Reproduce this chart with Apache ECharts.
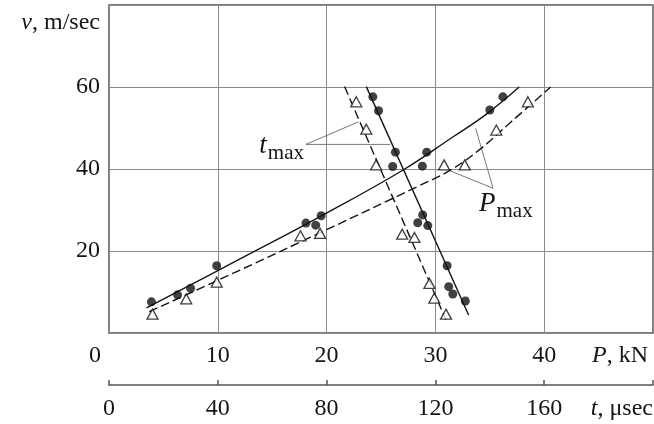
<!DOCTYPE html>
<html>
<head>
<meta charset="utf-8">
<script src="https://cdn.jsdelivr.net/npm/echarts@6.0.0/dist/echarts.min.js"></script>
<style>
  html, body { margin: 0; padding: 0; background: #fff; }
  #chart { width: 654px; height: 424px; }
</style>
</head>
<body>
<div id="chart"></div>
<script>
  // P_max runs: P in kN, v in m/sec
  var pDotsP = [3.9, 6.3, 7.5, 9.9, 18.1, 19.0, 19.5, 28.8, 29.2, 35.0, 36.2]
  var pDotsV = [7.6, 9.3, 10.9, 16.4, 26.8, 26.3, 28.6, 40.7, 44.1, 54.4, 57.6]
  var pTriP = [4.0, 7.1, 9.9, 17.6, 19.4, 30.8, 32.7, 35.6, 38.5]
  var pTriV = [4.6, 8.3, 12.4, 23.7, 24.3, 41.0, 41.0, 49.5, 56.4]

  // t_max runs: t in microseconds
  var tDotsT = [131.0, 126.4, 124.9, 124.3, 117.2, 113.5, 115.3, 104.3, 105.3, 99.1, 97.0]
  var tDotsV = [7.8, 9.5, 11.3, 16.4, 26.2, 26.9, 28.8, 40.6, 44.1, 54.2, 57.6]
  var tTriT = [123.9, 119.6, 117.8, 112.3, 107.8, 98.2, 94.6, 90.9]
  var tTriV = [4.6, 8.5, 12.1, 23.3, 24.1, 41.0, 49.7, 56.4]

  // fitted curves
  var pSolidP = [3.45, 12, 19.4, 27, 31.6, 34.6, 37.7]
  var pSolidV = [6.1, 18.0, 28.4, 39.7, 47.8, 53.2, 60.0]
  var pDashP = [3.7, 12, 20, 28.5, 31.3, 34, 37, 40.6]
  var pDashV = [5.2, 15.3, 25.2, 35.9, 39.6, 44.6, 51.6, 60.0]
  var tSolidT = [94.6, 132.2]
  var tSolidV = [60.1, 4.4]
  var tDashT = [86.6, 123.9]
  var tDashV = [60.1, 3.2]

  // leader lines of the two labels
  var pLeadP = [31.3, 35.3, 33.7]
  var pLeadV = [39.6, 35.3, 49.9]
  var tLeadT = [91.7, 72.4, 103.3]
  var tLeadV = [51.5, 46.0, 46.0]

  var pTicks = [0, 10, 20, 30, 40]
  var tTicks = [0, 40, 80, 120, 160]
  var vTicks = [20, 40, 60]

  function zip(xs, ys) {
    return xs.map(function (x, i) { return [x, ys[i]] })
  }

  var font = 'Liberation Serif'
  var ink = '#151515'
  var fs = 24

  var chart = echarts.init(document.getElementById('chart'))

  function richName(main, rest) {
    return {
      text: '{i|' + main + '}{r|' + rest + '}',
      rich: {
        i: { fontFamily: font, fontStyle: 'italic', fontSize: fs, fill: ink },
        r: { fontFamily: font, fontSize: fs, fill: ink }
      }
    }
  }

  function richSub(main) {
    return {
      text: '{t|' + main + '}{s|max}',
      rich: {
        t: { fontFamily: font, fontStyle: 'italic', fontSize: 27, fill: ink, verticalAlign: 'bottom', padding: [0, 1, 4, 0] },
        s: { fontFamily: font, fontSize: 21, fill: ink, verticalAlign: 'bottom' }
      }
    }
  }

  var option = {
    animation: false,
    grid: {
      left: 109,
      right: 1,
      top: 5,
      bottom: 91,
      show: true,
      borderColor: '#555',
      borderWidth: 1.5,
      outerBoundsMode: 'none'
    },
    xAxis: [{
      type: 'value',
      min: 0,
      max: 50,
      interval: 10,
      axisLine: { show: false },
      axisTick: { show: false },
      splitLine: { lineStyle: { color: '#8a8a8a', width: 1 } },
      axisLabel: {
        margin: 11,
        fontFamily: font,
        fontSize: fs,
        color: ink,
        formatter: function (val) {
          if (val === 0) return '{z|0}'
          return pTicks.indexOf(val) >= 0 ? String(val) : ''
        },
        rich: {
          z: { fontFamily: font, fontSize: fs, color: ink, padding: [0, 28, 0, 0] }
        }
      }
    }, {
      type: 'value',
      position: 'bottom',
      offset: 52,
      min: 0,
      max: 200,
      interval: 40,
      axisLine: { show: true, lineStyle: { color: '#555', width: 1.5 } },
      axisTick: { show: true, inside: true, length: 5, lineStyle: { color: '#555', width: 1.5 } },
      splitLine: { show: false },
      axisLabel: {
        margin: 12,
        fontFamily: font,
        fontSize: fs,
        color: ink,
        formatter: function (val) {
          return tTicks.indexOf(val) >= 0 ? String(val) : ''
        }
      }
    }],
    yAxis: {
      type: 'value',
      min: 0,
      max: 80,
      interval: 20,
      axisLine: { show: false },
      axisTick: { show: false },
      splitLine: { lineStyle: { color: '#8a8a8a', width: 1 } },
      axisLabel: {
        margin: 9,
        fontFamily: font,
        fontSize: fs,
        color: ink,
        formatter: function (val) {
          return vTicks.indexOf(val) >= 0 ? String(val) : ''
        }
      }
    },
    graphic: [{
      type: 'text',
      style: Object.assign({ x: 100, y: 23, align: 'right', verticalAlign: 'middle' }, richName('v', ', m/sec'))
    }, {
      type: 'text',
      style: Object.assign({ x: 648, y: 356, align: 'right', verticalAlign: 'middle' }, richName('P', ', kN'))
    }, {
      type: 'text',
      style: Object.assign({ x: 653, y: 409, align: 'right', verticalAlign: 'middle' }, richName('t', ', μsec'))
    }, {
      type: 'text',
      style: Object.assign({ x: 304, y: 148, align: 'right', verticalAlign: 'middle' }, richSub('t'))
    }, {
      type: 'text',
      style: Object.assign({ x: 479, y: 206, align: 'left', verticalAlign: 'middle' }, richSub('P'))
    }],
    series: [
      {
        type: 'line', xAxisIndex: 0, data: zip(pLeadP, pLeadV),
        showSymbol: false, silent: true, z: 1,
        lineStyle: { color: '#777', width: 1 }
      },
      {
        type: 'line', xAxisIndex: 1, data: zip(tLeadT, tLeadV),
        showSymbol: false, silent: true, z: 1,
        lineStyle: { color: '#777', width: 1 }
      },
      {
        type: 'line', xAxisIndex: 0, data: zip(pSolidP, pSolidV),
        showSymbol: false, smooth: 0.4,
        lineStyle: { color: ink, width: 1.4 }
      },
      {
        type: 'line', xAxisIndex: 0, data: zip(pDashP, pDashV),
        showSymbol: false, smooth: 0.4,
        lineStyle: { color: ink, width: 1.4, type: [9, 4] }
      },
      {
        type: 'line', xAxisIndex: 1, data: zip(tSolidT, tSolidV),
        showSymbol: false,
        lineStyle: { color: ink, width: 1.4 }
      },
      {
        type: 'line', xAxisIndex: 1, data: zip(tDashT, tDashV),
        showSymbol: false,
        lineStyle: { color: ink, width: 1.4, type: [9, 4] }
      },
      {
        type: 'scatter', xAxisIndex: 0, data: zip(pDotsP, pDotsV),
        symbol: 'circle', symbolSize: 9, z: 5,
        itemStyle: { color: '#111' }
      },
      {
        type: 'scatter', xAxisIndex: 1, data: zip(tDotsT, tDotsV),
        symbol: 'circle', symbolSize: 9, z: 5,
        itemStyle: { color: '#111' }
      },
      {
        type: 'scatter', xAxisIndex: 0, data: zip(pTriP, pTriV),
        symbol: 'triangle', symbolSize: [11, 10], z: 5,
        itemStyle: { color: '#fff', borderColor: '#111', borderWidth: 1.3 }
      },
      {
        type: 'scatter', xAxisIndex: 1, data: zip(tTriT, tTriV),
        symbol: 'triangle', symbolSize: [11, 10], z: 5,
        itemStyle: { color: '#fff', borderColor: '#111', borderWidth: 1.3 }
      }
    ]
  }

  chart.setOption(option)
</script>
</body>
</html>
